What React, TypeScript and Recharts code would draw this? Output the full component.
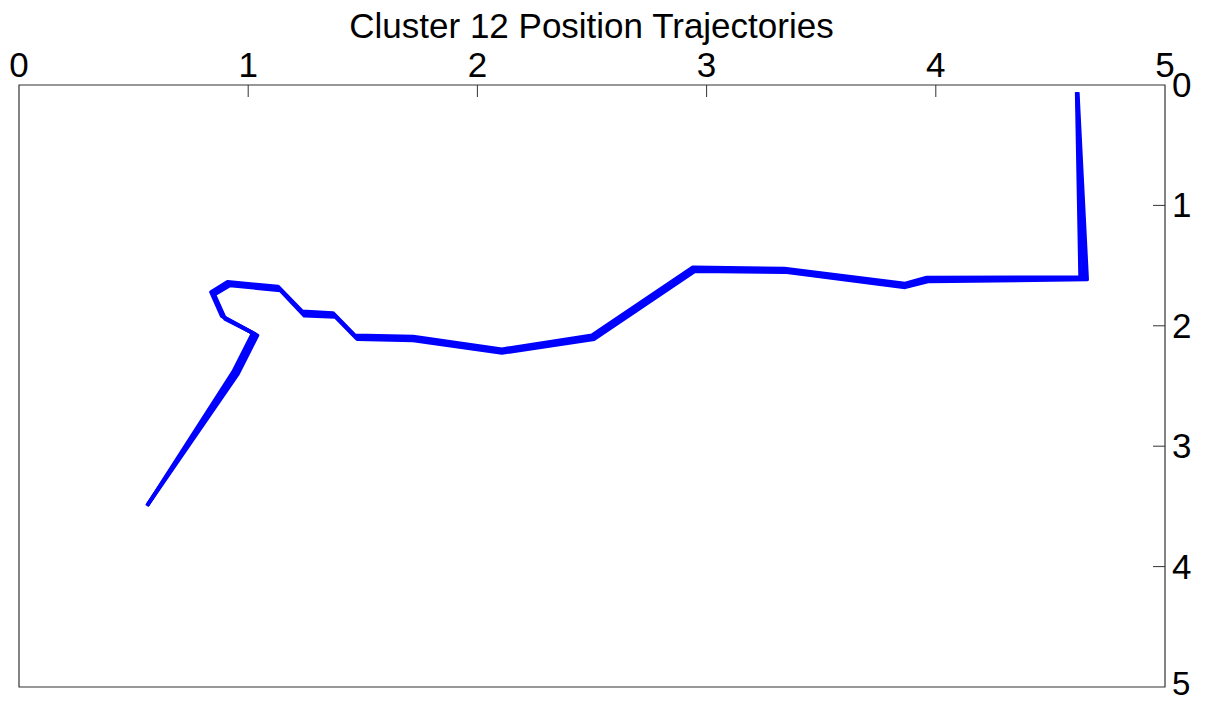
import React from 'react';
import { LineChart, Line, XAxis, YAxis, ReferenceArea } from 'recharts';

const xTicks = [0, 1, 2, 3, 4, 5];
const yTicks = [0, 1, 2, 3, 4, 5];
const titleText = 'Cluster 12 Position Trajectories';

const traj1X = [0.558, 0.935, 1.02, 0.885, 0.838, 0.91, 1.13, 1.235, 1.37, 1.465, 1.72, 2.107, 2.5, 2.94, 3.34, 3.866, 3.96, 4.63, 4.615];
const traj1Y = [3.497, 2.38, 2.06, 1.92, 1.72, 1.635, 1.675, 1.88, 1.895, 2.08, 2.09, 2.195, 2.08, 1.515, 1.525, 1.65, 1.6, 1.595, 0.06];
const traj2X = [0.56, 0.945, 1.03, 0.895, 0.845, 0.915, 1.135, 1.24, 1.375, 1.47, 1.72, 2.107, 2.505, 2.945, 3.345, 3.866, 3.965, 4.645, 4.617];
const traj2Y = [3.49, 2.39, 2.07, 1.93, 1.73, 1.65, 1.69, 1.9, 1.91, 2.095, 2.105, 2.21, 2.095, 1.53, 1.54, 1.665, 1.615, 1.605, 0.06];
const traj3X = [0.562, 0.955, 1.04, 0.9, 0.852, 0.92, 1.14, 1.245, 1.38, 1.475, 1.72, 2.107, 2.51, 2.95, 3.35, 3.866, 3.97, 4.66, 4.619];
const traj3Y = [3.485, 2.4, 2.08, 1.945, 1.74, 1.665, 1.705, 1.915, 1.925, 2.11, 2.12, 2.225, 2.11, 1.545, 1.555, 1.68, 1.63, 1.615, 0.06];

const build = (xs: number[], ys: number[]) => xs.map((x, i) => ({ x, y: ys[i] }));
const trajectories = [build(traj1X, traj1Y), build(traj2X, traj2Y), build(traj3X, traj3Y)];

const FONT = '"Liberation Sans", Arial, sans-serif';
const TICK_LEN = 12;
const FS = 35;

const XTick = (props: any) => {
  const { x, y, payload } = props;
  const v = payload.value;
  return (
    <g>
      {v > 0 && v < 5 && <line x1={x} y1={y} x2={x} y2={y + TICK_LEN} stroke="#333" strokeWidth={1} />}
      <text x={x} y={y - 8} textAnchor="middle" fontSize={FS} fontFamily={FONT} fill="#000">{v}</text>
    </g>
  );
};

const YTick = (props: any) => {
  const { x, y, payload } = props;
  const v = payload.value;
  const baseY = v === 5 ? y + 8 : y + 12;
  return (
    <g>
      {v > 0 && v < 5 && <line x1={x - TICK_LEN} y1={y} x2={x} y2={y} stroke="#333" strokeWidth={1} />}
      <text x={x + 7} y={baseY} textAnchor="start" fontSize={v === 5 ? 33 : FS} fontFamily={FONT} fill="#000">{v}</text>
    </g>
  );
};

export default function App() {
  return (
    <div style={{ position: 'absolute', left: 0, top: 0, width: 1209, height: 703, background: '#fff' }}>
      <div style={{ position: 'absolute', left: 0, top: 9, width: 1183, textAlign: 'center', fontFamily: FONT, fontSize: FS, lineHeight: '34px', color: '#000', whiteSpace: 'nowrap' }}>
        {titleText}
      </div>
      <LineChart width={1209} height={703} margin={{ top: 45, right: 4, bottom: 16, left: 19 }}>
        <XAxis type="number" dataKey="x" orientation="top" domain={[0, 5]} ticks={xTicks} interval={0}
          height={40} tickSize={0} tickMargin={0} axisLine={false} tick={<XTick />} allowDataOverflow />
        <YAxis type="number" dataKey="y" orientation="right" domain={[0, 5]} ticks={yTicks} interval={0}
          reversed width={40} tickSize={0} tickMargin={0} axisLine={false} tick={<YTick />} allowDataOverflow />
        <ReferenceArea x1={0} x2={5} y1={0} y2={5} fill="none" fillOpacity={0} stroke="#333" strokeWidth={1.2} ifOverflow="visible" />
        {trajectories.map((d, i) => (
          <Line key={i} data={d} dataKey="y" type="linear" stroke="#0000ff" strokeWidth={3.8}
            strokeLinejoin="round" dot={false} activeDot={false} isAnimationActive={false} />
        ))}
      </LineChart>
    </div>
  );
}
